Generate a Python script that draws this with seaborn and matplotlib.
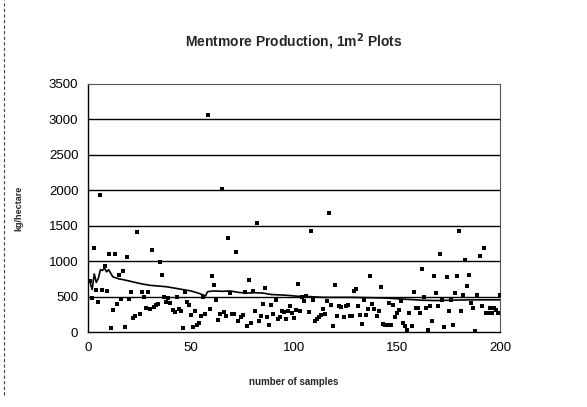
import numpy as np
import pandas as pd
import matplotlib
matplotlib.use('Agg')
import matplotlib.pyplot as plt
from matplotlib.lines import Line2D
import seaborn as sns

# kg/hectare for each 1m2 sample plot
production = [
    720, 480, 1182, 589, 429, 1931, 598, 928, 575, 1102,
    52, 316, 1102, 396, 800, 462, 867, 71, 1060, 462,
    560, 193, 221, 1413, 259, 565, 490, 344, 565, 325,
    1163, 353, 386, 396, 989, 805, 499, 419, 476, 410,
    316, 283, 494, 320, 292, 52, 565, 424, 386, 236,
    71, 297, 94, 127, 231, 490, 260, 3066, 325, 787,
    659, 447, 174, 254, 2011, 278, 231, 1333, 546, 259,
    254, 1134, 151, 207, 240, 560, 89, 730,
    127, 584, 301, 1535, 160, 231, 396, 622, 207, 104,
    382, 259, 457, 184, 207, 292, 278, 184, 297, 363,
    268, 193, 316, 683, 292, 490, 433, 513, 278, 1432,
    457, 151, 184, 207, 240, 325, 254, 443, 1677, 382,
    89, 664, 221, 372, 353, 207, 363, 386, 231, 231,
    584, 612, 363, 240, 113, 447, 240, 325, 796, 396,
    325, 231, 292, 631, 113, 99, 94, 410, 104, 386,
    207, 268, 306, 433, 127, 89, 33, 268, 89, 565,
    334, 339, 268, 890, 490, 339, 24, 363, 160,
    787, 551, 363, 1102, 457, 71, 777, 292, 457, 104,
    551, 787, 1422, 292, 527, 1022, 645, 810, 410, 339,
    19, 523, 1069, 363, 1187, 268, 268, 339, 268, 339,
    316, 268, 527,
]

# running average line
avg_samples = [0, 1, 2, 3, 4, 5, 6, 7, 8, 9, 10, 12, 13, 15, 17, 20, 23, 26,
               30, 34, 38, 42, 46, 50, 54, 57, 58, 61, 65, 69, 73, 77, 81, 85,
               89, 96, 102, 108, 114, 121, 129, 137, 145, 150, 156, 162, 169,
               177, 185, 193, 200]
avg_values = [740, 700, 600, 820, 700, 760, 880, 870, 900, 850, 880, 780, 770,
              750, 740, 720, 700, 680, 660, 650, 640, 620, 600, 580, 545, 510,
              570, 580, 575, 580, 560, 550, 555, 550, 530, 520, 505, 500, 490,
              490, 490, 485, 480, 470, 460, 450, 445, 450, 455, 455, 455]

x_ticks = [0, 50, 100, 150, 200]
y_ticks = [0, 500, 1000, 1500, 2000, 2500, 3000, 3500]

df = pd.DataFrame({'sample': np.arange(1, len(production) + 1), 'kg': production})
avg = pd.DataFrame({'sample': avg_samples, 'kg': avg_values})

sns.set_style('white')
plt.rcParams['font.family'] = ['Liberation Sans', 'DejaVu Sans']

fig = plt.figure(figsize=(5.87, 4.07), dpi=100)
ax = fig.add_axes([0.150, 0.184, 0.702, 0.610])

sns.scatterplot(data=df, x='sample', y='kg', ax=ax, color='black', s=6,
                marker='s', linewidth=0, zorder=3)
sns.lineplot(data=avg, x='sample', y='kg', ax=ax, color='black',
             linewidth=1.2, zorder=4)

ax.set_xlim(0, 200)
ax.set_ylim(0, 3500)
ax.set_xticks(x_ticks)
ax.set_yticks(y_ticks)
ax.tick_params(axis='both', labelsize=9.5, length=3, width=0.8, direction='out',
               colors='black', pad=4)
for y in y_ticks[1:-1]:
    ax.axhline(y, color='black', linewidth=1.0, zorder=1)

for side in ['left', 'bottom']:
    ax.spines[side].set_color('black')
    ax.spines[side].set_linewidth(1.0)
for side in ['top', 'right']:
    ax.spines[side].set_color('#555555')
    ax.spines[side].set_linewidth(0.8)
    ax.spines[side].set_linestyle((0, (2, 1)))

ax.set_xlabel('number of samples', fontsize=7, fontweight='bold', labelpad=17)
ax.set_ylabel('kg/hectare', fontsize=6.5, fontweight='bold', labelpad=18)
fig.text(0.5, 0.897, 'Mentmore Production, 1m$^{\\mathbf{2}}$ Plots', ha='center',
         va='center', fontsize=10, fontweight='bold')

# dashed outer chart frame at the left edge
fig.add_artist(Line2D([0.007, 0.007], [0.03, 1.0], transform=fig.transFigure,
                      color='#444444', linewidth=0.8, linestyle=(0, (3, 2))))

fig.savefig('out.png', dpi=100)
